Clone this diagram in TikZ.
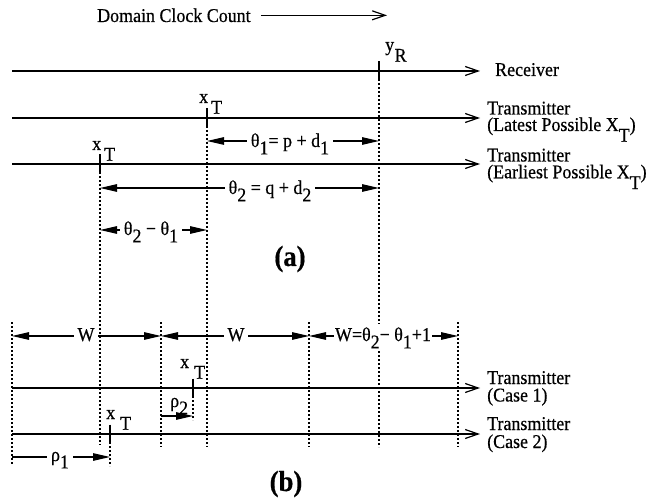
\documentclass[tikz,border=0pt]{standalone}
\usepackage{fontspec}
\setmainfont[FakeStretch=0.92,FakeBold=0.5]{Liberation Serif}
\usetikzlibrary{arrows.meta}
\newcommand\lowr[1]{\raisebox{-0.55em}{#1}}
\newcommand\dn[1]{\raisebox{-0.38em}{#1}}
\newcommand\twolines[3]{\vbox{\baselineskip=#3\lineskiplimit=-30pt\hbox{#1}\hbox{#2}}}
\begin{document}
\begin{tikzpicture}[x=1pt,y=-1pt,
  every node/.style={font=\fontsize{19.5}{20}\selectfont, inner sep=0pt},
  timeline/.style={line width=2pt, -{Straight Barb[length=13pt,width=9pt,line width=1.2pt]}},
  tickmark/.style={line width=1.8pt},
  guideline/.style={line width=1.5pt, dash pattern=on 1.8pt off 2.2pt},
  dimarr/.style={line width=1.1pt, {Triangle[length=17pt,width=7.5pt]}-{Triangle[length=17pt,width=7.5pt]}},
  dimone/.style={line width=1.1pt, -{Triangle[length=17pt,width=7.5pt]}},
  lbl/.style={fill=white, inner xsep=4pt, inner ysep=3pt, anchor=base},
  txt/.style={anchor=base west},
  sublabel/.style={font=\fontsize{29}{30}\selectfont\bfseries, anchor=center}
]
\useasboundingbox (0,0) rectangle (668,502);

% header
\node[txt] (dcc) at (97,22) {Domain Clock Count};
\coordinate (dccend) at (387,16);
\draw[line width=1.2pt, -{Straight Barb[length=13pt,width=9pt,line width=1.2pt]}]
  ([xshift=10pt]dcc.east) -- (dccend |- dcc.east);

% time line coordinates
\coordinate (r0) at (12,71);   \coordinate (r1) at (480,71);
\coordinate (l0) at (12,118);  \coordinate (l1) at (480,118);
\coordinate (e0) at (12,164);  \coordinate (e1) at (480,164);
\coordinate (c10) at (12,388); \coordinate (c11) at (480,388);
\coordinate (c20) at (12,434); \coordinate (c21) at (480,434);

% event points
\coordinate (yR) at (379,71);
\coordinate (xL) at (207,118);
\coordinate (xE) at (100,164);
\coordinate (x1) at (193,388);
\coordinate (x2) at (110,434);

% guide lines (dotted)
\coordinate (yRb) at (379,447);
\coordinate (xLb) at (207,447);
\coordinate (xEb) at (100,445);
\coordinate (x1b) at (193,420);
\coordinate (x2b) at (110,466);
\coordinate (g1t) at (12,322);  \coordinate (g1b) at (12,464);
\coordinate (g2t) at (161,322); \coordinate (g2b) at (161,447);
\coordinate (g3t) at (309,322); \coordinate (g3b) at (309,447);
\coordinate (g4t) at (458,322); \coordinate (g4b) at (458,447);

\draw[guideline] (yR) -- (yRb);
\draw[guideline] (xL) -- (xLb);
\draw[guideline] (xE) -- (xEb);
\draw[guideline] (x1) -- (x1b);
\draw[guideline] (x2) -- (x2b);
\draw[guideline] (g1t) -- (g1b);
\draw[guideline] (g2t) -- (g2b);
\draw[guideline] (g3t) -- (g3b);
\draw[guideline] (g4t) -- (g4b);

% time lines
\draw[timeline] (r0) -- (r1);
\draw[timeline] (l0) -- (l1);
\draw[timeline] (e0) -- (e1);
\draw[timeline] (c10) -- (c11);
\draw[timeline] (c20) -- (c21);

% ticks
\foreach \p in {yR,xL,xE,x1,x2}
  \draw[tickmark] ([yshift=9.5pt]\p) -- ([yshift=-9.5pt]\p);

% tick labels
\node[txt] (lyR) at (385,51) {y\hspace{0.5pt}\lowr{R}};
\node[txt] (lxL) at (199,103) {x\hspace{3pt}\lowr{T}};
\node[txt] (lxE) at (92,150) {x\hspace{3pt}\lowr{T}};
\node[txt] (lx1) at (180,368) {x\hspace{5pt}\lowr{T}};
\node[txt] (lx2) at (106,419) {x\hspace{5pt}\lowr{T}};

% right-hand labels (anchored at the baseline of the second line)
\node[txt] (recv) at (495,76) {Receiver};
\node[txt] (tlat) at (487,131)
  {\twolines{Transmitter}{(Latest Possible X\lowr{T})}{16.5pt}};
\node[txt] (tear) at (487,178.3)
  {\twolines{Transmitter}{(Earliest Possible X\lowr{T})}{16.8pt}};
\node[txt] (tca1) at (487,401.5)
  {\twolines{Transmitter}{(Case 1)}{17.5pt}};
\node[txt] (tca2) at (487,448)
  {\twolines{Transmitter}{(Case 2)}{18pt}};

% dimension arrows, part (a)
\coordinate (th1a) at (207,141); \coordinate (th1b) at (379,141);
\coordinate (th2a) at (100,188); \coordinate (th2b) at (379,188);
\coordinate (thda) at (100,230); \coordinate (thdb) at (207,230);
\draw[dimarr] (th1a) -- (th1b);
\draw[dimarr] (th2a) -- (th2b);
\draw[dimarr] (thda) -- (thdb);
\node[lbl] (lth1) at (290,147) {θ\dn{1}= p + d\dn{1}};
\node[lbl] (lth2) at (270,194) {θ\dn{2} = q + d\dn{2}};
\node[lbl] (lthd) at (151,235) {θ\dn{2} − θ\dn{1}};
\node[sublabel] (suba) at (290,259) {(a)};

% dimension arrows, part (b)
\coordinate (w1a) at (12,336);  \coordinate (w1b) at (161,336);
\coordinate (w2a) at (161,336); \coordinate (w2b) at (309,336);
\coordinate (w3a) at (309,336); \coordinate (w3b) at (458,336);
\draw[dimarr] (w1a) -- (w1b);
\draw[dimarr] (w2a) -- (w2b);
\draw[dimarr] (w3a) -- (w3b);
\node[lbl] (lw1) at (86,341) {W};
\node[lbl] (lw2) at (236,341) {W};
\node[lbl, inner xsep=1pt] (lw3) at (383,341) {W=θ\dn{2}− θ\dn{1}+1};

\coordinate (p2a) at (161,416); \coordinate (p2b) at (193,416);
\draw[dimone] (p2a) -- (p2b);
\node[txt] (lp2) at (170,407) {ρ\dn{2}};

\coordinate (p1a) at (12,457); \coordinate (p1b) at (110,457);
\draw[dimone] (p1a) -- (p1b);
\node[lbl] (lp1) at (60,461) {ρ\dn{1}};

\node[sublabel] (subb) at (286,484) {(b)};
\end{tikzpicture}
\end{document}
